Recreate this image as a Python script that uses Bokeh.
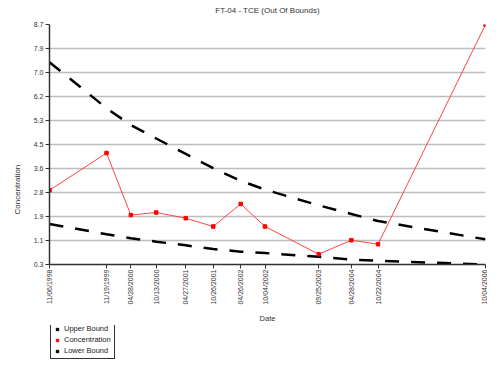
import numpy as np
from datetime import datetime
from bokeh.plotting import figure
from bokeh.layouts import column
from bokeh.models import (FixedTicker, DatetimeTickFormatter, Range1d, Legend,
                          LegendItem, Title)
from bokeh.embed import file_html
from bokeh.resources import INLINE

dates = ["11/06/1998", "11/19/1999", "04/28/2000", "10/13/2000", "04/27/2001",
         "10/26/2001", "04/26/2002", "10/04/2002", "09/25/2003", "04/28/2004",
         "10/22/2004", "10/04/2006"]
concentration = [2.90, 4.20, 2.03, 2.12, 1.92, 1.63, 2.42, 1.63, 0.66, 1.15, 1.01, 8.70]
upper_bound = [7.38, 5.77, 5.18, 4.71, 4.17, 3.67, 3.23, 2.92, 2.37, 2.07, 1.82, 1.18]
lower_bound = [1.72, 1.36, 1.22, 1.10, 0.97, 0.84, 0.75, 0.70, 0.57, 0.47, 0.43, 0.30]
y_tick_labels = ["0.3", "1.1", "1.9", "2.8", "3.6", "4.5", "5.3", "6.2", "7.0", "7.9", "8.7"]
series_names = ["Upper Bound", "Concentration", "Lower Bound"]
series_colors = ["black", "red", "black"]
y_min, y_max = 0.3, 8.7

x = [datetime.strptime(d, "%m/%d/%Y") for d in dates]
x_ms = [(d - datetime(1970, 1, 1)).total_seconds() * 1000.0 for d in x]

FONT = "Liberation Sans"

p = figure(frame_width=436, frame_height=240, x_axis_type="datetime",
           output_backend="svg", toolbar_location=None,
           x_range=Range1d(x_ms[0], x_ms[-1]), y_range=Range1d(y_min, y_max),
           min_border_left=49, min_border_right=2, min_border_top=24,
           min_border_bottom=58)
p.outline_line_color = None
p.background_fill_color = "white"

p.title.text = "FT-04 - TCE (Out Of Bounds)\n"
p.title.text_font = FONT
p.title.text_font_size = "8px"
p.title.text_font_style = "normal"
p.title.text_color = "#333333"
p.title.align = "center"
p.title.standoff = 2

ytitle = Title(text="Concentration", align="left", offset=50,
               text_font=FONT, text_font_size="8px", text_font_style="normal",
               text_color="#333333", standoff=17)
p.add_layout(ytitle, "left")

yt = list(np.linspace(y_min, y_max, len(y_tick_labels)))
p.yaxis.ticker = FixedTicker(ticks=yt)
p.yaxis.major_label_overrides = {float(t): s for t, s in zip(yt, y_tick_labels)}
p.ygrid.ticker = FixedTicker(ticks=yt[1:-1])
p.ygrid.grid_line_color = "#bdbdbd"
p.ygrid.grid_line_width = 1.5
p.xgrid.grid_line_color = None

p.xaxis.ticker = FixedTicker(ticks=x_ms)
fmt = "%m/%d/%Y"
p.xaxis.formatter = DatetimeTickFormatter(
    microseconds=fmt, milliseconds=fmt, seconds=fmt, minsec=fmt, minutes=fmt,
    hourmin=fmt, hours=fmt, days=fmt, months=fmt, years=fmt)
p.xaxis.major_label_orientation = np.pi / 2
p.xaxis.axis_label = "Date"

for ax in (p.xaxis, p.yaxis):
    ax.axis_line_color = "#333333"
    ax.axis_line_width = 1.5
    ax.major_tick_line_color = "#333333"
    ax.major_tick_out = 4
    ax.major_tick_in = 0
    ax.minor_tick_line_color = None
    ax.major_label_text_font = FONT
    ax.major_label_text_font_size = "7px"
    ax.major_label_text_color = "#333333"
    ax.axis_label_text_font = FONT
    ax.axis_label_text_font_size = "7.5px"
    ax.axis_label_text_font_style = "normal"
    ax.axis_label_text_color = "#333333"
p.xaxis.major_label_standoff = 1
p.yaxis.major_label_standoff = 2
p.xaxis.axis_label_standoff = 6

p.line(x_ms, upper_bound, line_color="black", line_width=2.5, line_dash="14 12")
p.line(x_ms, lower_bound, line_color="black", line_width=2.5, line_dash="14 12")
p.line(x_ms, concentration, line_color="#ff4444", line_width=1)
p.scatter(x_ms, concentration, marker="square", size=3.5, color="red")

# legend figure below the chart (its frame aligns with the chart's frame)
lf = figure(width=487, height=35, output_backend="svg", toolbar_location=None,
            x_range=Range1d(0, 1), y_range=Range1d(0, 1),
            x_axis_location=None, y_axis_location=None,
            min_border_left=49, min_border_right=2, min_border_top=0,
            min_border_bottom=0)
lf.grid.visible = False
lf.outline_line_color = None

items = []
for name, col in zip(series_names, series_colors):
    r = lf.scatter([np.nan], [np.nan], marker="square", size=5, color=col)
    items.append(LegendItem(label=name, renderers=[r]))

legend = Legend(items=items, location=(1, 1), orientation="vertical")
legend.label_text_font = FONT
legend.label_text_font_size = "7.5px"
legend.label_text_color = "#222222"
legend.label_text_line_height = 1.0
legend.glyph_width = 6
legend.glyph_height = 6
legend.label_height = 7
legend.spacing = 2
legend.padding = 3
legend.margin = 0
legend.label_standoff = 4
legend.border_line_color = "#333333"
legend.border_line_width = 1
legend.border_line_alpha = 1.0
legend.background_fill_color = "white"
legend.background_fill_alpha = 1.0
lf.add_layout(legend, "center")

layout = column(p, lf, spacing=0)
open("out.html", "w").write(file_html(layout, INLINE))
